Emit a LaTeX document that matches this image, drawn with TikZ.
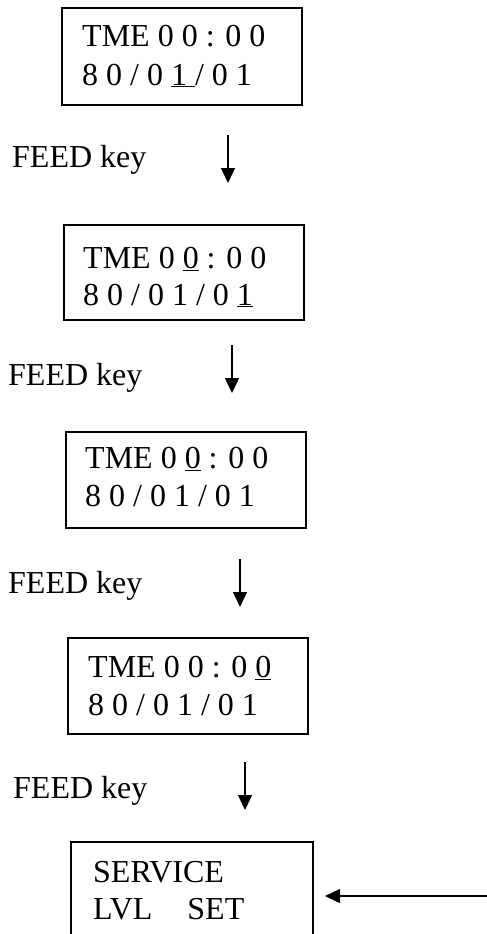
\documentclass[tikz,border=0pt]{standalone}
\usepackage{fontspec}
\setmainfont{Liberation Serif}
\usetikzlibrary{arrows.meta}
\begin{document}
\begin{tikzpicture}[x=1pt,y=-1pt,
  box/.style={draw, line width=1.8pt, inner sep=0pt, anchor=north west, minimum width=240pt, minimum height=96pt},
  txt/.style={anchor=base west, inner sep=0pt, font=\fontsize{32}{38}\selectfont},
  arr/.style={line width=1.4pt, -{Triangle[length=15pt,width=14pt]}}]
\useasboundingbox (0,0) rectangle (487,934);
% box 1
\node[box, minimum height=97pt] (b1) at (61,7) {};
\node[txt] (t1a) at (82,47) {TME 0 0 : 0 0};
\node[txt] (t1b) at (82,85) {8 0 / 0 \underline{1\ }/ 0 1};
% step 1
\node[txt] (f1) at (12,167) {FEED key};
\coordinate (a1s) at (228,135);
\coordinate (a1e) at (228,183);
\draw[arr] (a1s) -- (a1e);
% box 2
\node[box, minimum height=95pt] (b2) at (63,224) {};
\node[txt] (t2a) at (83,268) {TME 0 \underline{0} : 0 0};
\node[txt] (t2b) at (83,305) {8 0 / 0 1 / 0 \underline{1}};
% step 2
\node[txt] (f2) at (8,385) {FEED key};
\coordinate (a2s) at (232,345);
\coordinate (a2e) at (232,393);
\draw[arr] (a2s) -- (a2e);
% box 3
\node[box] (b3) at (65,431) {};
\node[txt] (t3a) at (85,468) {TME 0 \underline{0} : 0 0};
\node[txt] (t3b) at (85,506) {8 0 / 0 1 / 0 1};
% step 3
\node[txt] (f3) at (8,593) {FEED key};
\coordinate (a3s) at (240,559);
\coordinate (a3e) at (240,607);
\draw[arr] (a3s) -- (a3e);
% box 4
\node[box] (b4) at (67,637) {};
\node[txt] (t4a) at (88,677) {TME 0 0 : 0 \underline{0}};
\node[txt] (t4b) at (88,715) {8 0 / 0 1 / 0 1};
% step 4
\node[txt] (f4) at (13,798) {FEED key};
\coordinate (a4s) at (245,762);
\coordinate (a4e) at (245,810);
\draw[arr] (a4s) -- (a4e);
% box 5
\node[box, minimum width=242pt] (b5) at (70,841) {};
\node[txt] (t5a) at (93,882) {SERVICE};
\node[txt] (t5b) at (93,919) {LVL\hspace{35pt}SET};
\coordinate (a5s) at (487,896);
\coordinate (a5e) at (325,896);
\draw[arr] (a5s) -- (a5e);
\end{tikzpicture}
\end{document}
